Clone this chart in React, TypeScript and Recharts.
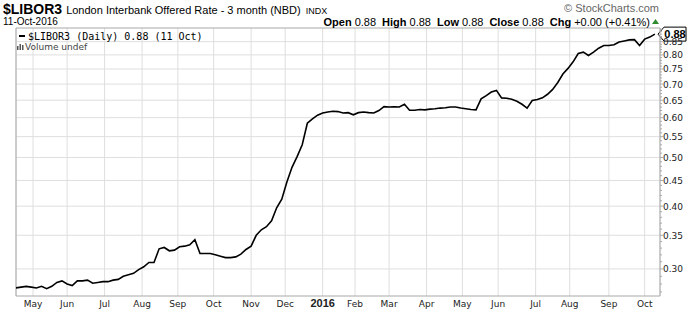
import { CartesianGrid, Line, LineChart, ReferenceLine, XAxis, YAxis } from "recharts";

const TICKER = "$LIBOR3";
const TITLE = "London Interbank Offered Rate - 3 month (NBD)";
const EXCHANGE = "INDX";
const AS_OF = "11-Oct-2016";
const LEGEND = "$LIBOR3 (Daily) 0.88 (11 Oct)";
const QUOTE: [string, string][] = [
  ["Open", "0.88"],
  ["High", "0.88"],
  ["Low", "0.88"],
  ["Close", "0.88"],
  ["Chg", "+0.00 (+0.41%)"]
];

// closes sampled every 3rd session, starting 17-Apr-2015
const STEP = 3;
const RATES = [
  0.275, 0.276, 0.277, 0.276, 0.275, 0.277, 0.274, 0.277, 0.282, 0.284,
  0.28, 0.278, 0.284, 0.284, 0.285, 0.281, 0.282, 0.283, 0.283, 0.285,
  0.286, 0.29, 0.292, 0.294, 0.299, 0.303, 0.309, 0.309, 0.329, 0.331,
  0.326, 0.327, 0.332, 0.333, 0.335, 0.343, 0.322, 0.322, 0.322, 0.32,
  0.318, 0.316, 0.316, 0.317, 0.321, 0.328, 0.333, 0.35, 0.359, 0.364,
  0.374, 0.397, 0.413, 0.447, 0.478, 0.502, 0.53, 0.585, 0.597, 0.607,
  0.613, 0.616, 0.618, 0.617, 0.613, 0.614, 0.608, 0.614, 0.616, 0.614,
  0.613, 0.62, 0.631, 0.63, 0.631, 0.63, 0.638, 0.621, 0.621, 0.623,
  0.622, 0.624, 0.625, 0.627, 0.628, 0.63, 0.63, 0.627, 0.625, 0.623,
  0.622, 0.654, 0.664, 0.675, 0.68, 0.657, 0.656, 0.653, 0.647, 0.638,
  0.627, 0.649, 0.652, 0.657, 0.668, 0.683, 0.705, 0.733, 0.752, 0.775,
  0.805, 0.81, 0.798, 0.81, 0.825, 0.835, 0.835, 0.838, 0.849, 0.853,
  0.857, 0.858, 0.835, 0.86, 0.868, 0.88
];

// month axis: sessions before 1-May-2015, then sessions in each month
const FIRST_MONTH_AT = 10;
const MONTH_LABELS = ["May", "Jun", "Jul", "Aug", "Sep", "Oct", "Nov", "Dec", "2016", "Feb", "Mar", "Apr", "May", "Jun", "Jul", "Aug", "Sep", "Oct"];
const MONTH_SESSIONS = [20, 22, 22, 21, 21, 22, 20, 22, 19, 20, 22, 21, 21, 22, 20, 23, 21];
const LAST_SESSION = 378;

const Y_LABELS = [0.3, 0.35, 0.4, 0.45, 0.5, 0.55, 0.6, 0.65, 0.7, 0.75, 0.8, 0.85];
const Y_MIN = 0.265;
const Y_MAX = 0.905;

const data = RATES.map((v, k) => ({ s: k * STEP, v }));
const last = RATES[RATES.length - 1];

const monthStarts: number[] = [FIRST_MONTH_AT];
MONTH_SESSIONS.forEach((n) => monthStarts.push(monthStarts[monthStarts.length - 1] + n));

const yTicks: number[] = [];
for (let c = 27; c <= 90; c++) yTicks.push(c / 100);

const GRID = "#dedede";
const FRAME = "#a8a8a8";

const MonthTick = ({ x, y, payload }: any) => {
  const label = MONTH_LABELS[monthStarts.indexOf(payload.value)];
  const year = /^\d{4}$/.test(label);
  return (
    <text
      x={x}
      y={y + 11}
      textAnchor="middle"
      fontSize={year ? 11 : 9}
      fontWeight={year ? "bold" : "normal"}
      fontFamily={year ? "Liberation Sans" : "DejaVu Sans"}
      fill="#222"
    >
      {label}
    </text>
  );
};

const RateTick = ({ x, y, payload }: any) => {
  const v = payload.value;
  const major = Y_LABELS.some((l) => Math.abs(l - v) < 1e-6);
  return (
    <g>
      <line x1={x} x2={x + (major ? 3 : 2)} y1={y} y2={y} stroke={FRAME} />
      {major && (
        <text x={x + 3} y={y + 3.5} fontSize={9} fontFamily="DejaVu Sans" fill="#222">
          {v.toFixed(2)}
        </text>
      )}
    </g>
  );
};

const LastTag = ({ viewBox }: any) => {
  const x = viewBox.x + viewBox.width;
  const y = viewBox.y;
  return (
    <g>
      <polygon
        points={`${x - 2},${y} ${x + 4},${y - 7} ${x + 26},${y - 7} ${x + 26},${y + 7} ${x + 4},${y + 7}`}
        fill="#fff"
        stroke="#000"
      />
      <text x={x + 15} y={y + 4} textAnchor="middle" fontSize={11} fontWeight="bold" fontFamily="Liberation Sans" fill="#000">
        {last.toFixed(2)}
      </text>
    </g>
  );
};

function Header() {
  return (
    <svg width={700} height={312} style={{ position: "absolute", left: 0, top: 0, pointerEvents: "none" }}>
      <text x={3} y={14} fontFamily="Liberation Sans" fill="#000">
        <tspan fontSize={14} fontWeight="bold">{TICKER}</tspan>
        <tspan fontSize={11} dx={4}>{TITLE}</tspan>
        <tspan fontSize={9} dx={5}>{EXCHANGE}</tspan>
      </text>
      <text x={3} y={25} fontSize={10} fontFamily="Liberation Sans" fill="#000">
        {AS_OF}
      </text>
      <text x={659} y={12} textAnchor="end" fontSize={11} fontFamily="Liberation Sans" fill="#666">
        © StockCharts.com
      </text>
      <text x={650} y={26} textAnchor="end" fontSize={11} fontFamily="Liberation Sans" fill="#000">
        {QUOTE.map(([k, v], i) => (
          <tspan key={k}>
            <tspan fontWeight="bold" dx={i ? 6 : 0}>{k}</tspan>
            <tspan dx={3}>{v}</tspan>
          </tspan>
        ))}
      </text>
      <polygon points="652,24 659,24 655.5,19" fill="#2e8b2e" />
      <line x1={19} x2={25} y1={36} y2={36} stroke="#000" strokeWidth={2} />
      <text x={28} y={40} fontSize={10} fontFamily="DejaVu Sans Mono" fill="#000">
        {LEGEND}
      </text>
      <g fill="#555">
        <rect x={17} y={46} width={1.5} height={4} />
        <rect x={19.5} y={44} width={1.5} height={6} />
        <rect x={22} y={45} width={1.5} height={5} />
      </g>
      <text x={25} y={50} fontSize={9} fontFamily="DejaVu Sans" fill="#444">
        Volume undef
      </text>
    </svg>
  );
}

export default function App() {
  return (
    <div style={{ position: "absolute", left: 0, top: 0, width: 700, height: 312, background: "#fff" }}>
      <LineChart width={700} height={312} data={data} margin={{ top: 28, right: 0, bottom: 0, left: 16 }}>
        <CartesianGrid vertical horizontal={false} stroke={GRID} />
        {Y_LABELS.map((v) => (
          <ReferenceLine key={v} y={v} stroke={GRID} />
        ))}
        <ReferenceLine x={0} stroke={FRAME} />
        <ReferenceLine y={Y_MAX} stroke={FRAME} />
        <XAxis
          dataKey="s"
          type="number"
          domain={[0, LAST_SESSION]}
          ticks={monthStarts}
          interval={0}
          height={16}
          tickSize={0}
          tickMargin={0}
          tick={<MonthTick />}
          axisLine={{ stroke: FRAME }}
          allowDataOverflow
        />
        <YAxis
          orientation="right"
          scale="log"
          type="number"
          domain={[Y_MIN, Y_MAX]}
          ticks={yTicks}
          interval={0}
          width={40}
          tickSize={0}
          tickMargin={0}
          tick={<RateTick />}
          axisLine={{ stroke: FRAME }}
          allowDataOverflow
        />
        <Line dataKey="v" type="linear" stroke="#000" strokeWidth={1.6} dot={false} isAnimationActive={false} />
        <ReferenceLine y={last} stroke="none" label={<LastTag />} />
      </LineChart>
      <Header />
    </div>
  );
}
